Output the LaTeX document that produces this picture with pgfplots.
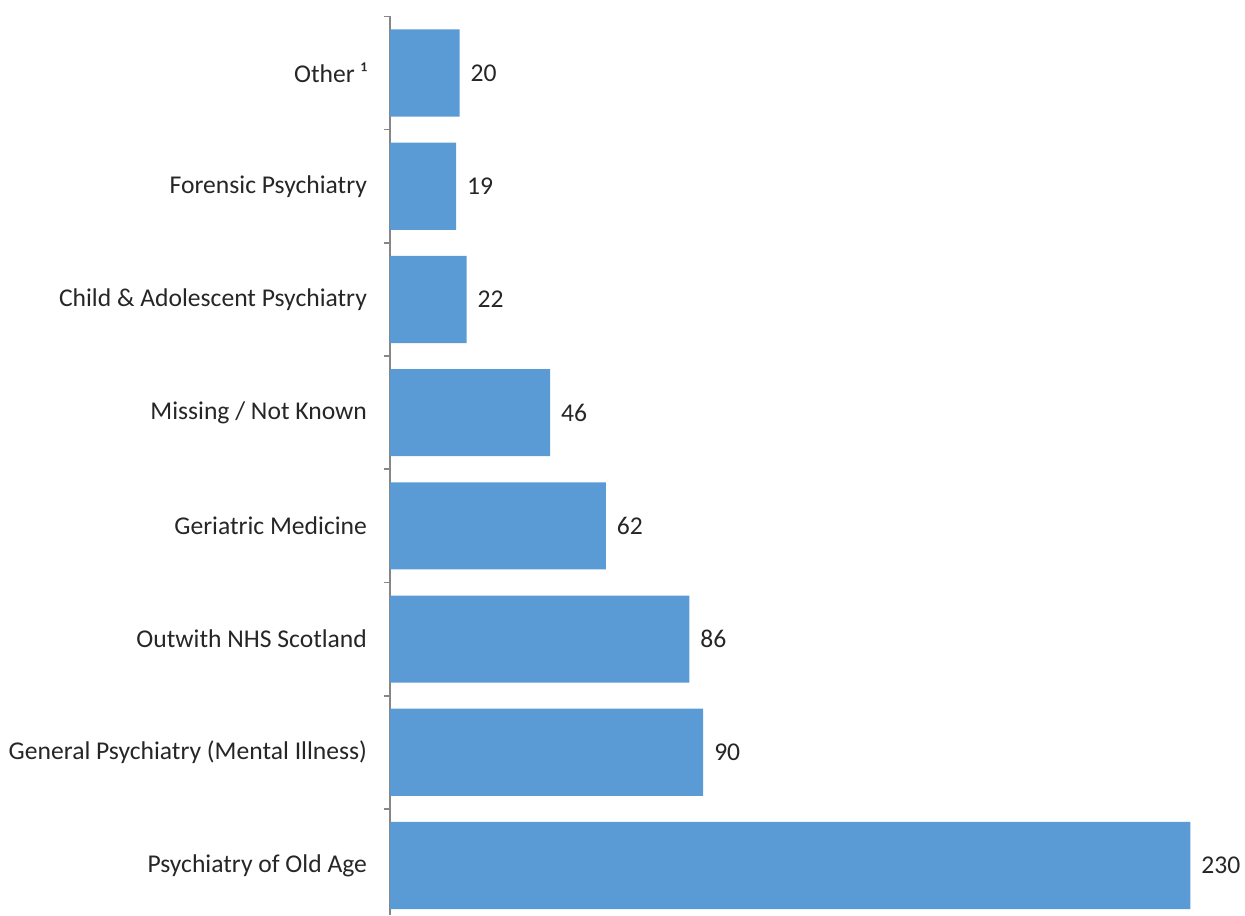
\documentclass[border=0pt]{standalone}
\usepackage{pgfplots}
\pgfplotsset{compat=1.18}
\usepackage{fontspec}
\setmainfont{Carlito}
\definecolor{barblue}{HTML}{5B9BD5}
\definecolor{axgrey}{HTML}{868686}
\begin{document}
\begin{tikzpicture}
\begin{axis}[
  scale only axis,
  width=427.5pt, height=449.3pt,
  xbar, bar width=0.77,
  xmin=0, xmax=245.7,
  ymin=-0.437, ymax=7.5,
  axis x line=none,
  axis y line*=left,
  axis line style={axgrey, line width=0.8pt},
  ytick={0,...,7},
  yticklabels={Psychiatry of Old Age, General Psychiatry (Mental Illness), Outwith NHS Scotland, Geriatric Medicine, Missing / Not Known, Child \& Adolescent Psychiatry, Forensic Psychiatry, Other ¹},
  major tick length=0pt,
  minor ytick={-0.5,0.5,1.5,2.5,3.5,4.5,5.5,6.5,7.5},
  minor tick length=3pt,
  tick align=outside,
  minor tick style={axgrey, line width=0.8pt},
  /pgf/number format/assume math mode=true,
  yticklabel style={font=\fontsize{12.8}{15}\selectfont, text=black!85, xshift=-8pt},
  nodes near coords,
  nodes near coords style={font=\fontsize{12.8}{15}\selectfont, text=black!85, xshift=2pt},
  clip=false,
]
\addplot[fill=barblue, draw=none] coordinates {
 (230,0) (90,1) (86,2) (62,3) (46,4) (22,5) (19,6) (20,7)
};
\end{axis}
\pgfresetboundingbox
\path ([xshift=-195pt]current axis.south west) rectangle ([yshift=8.2pt]current axis.north east);
\end{tikzpicture}
\end{document}
